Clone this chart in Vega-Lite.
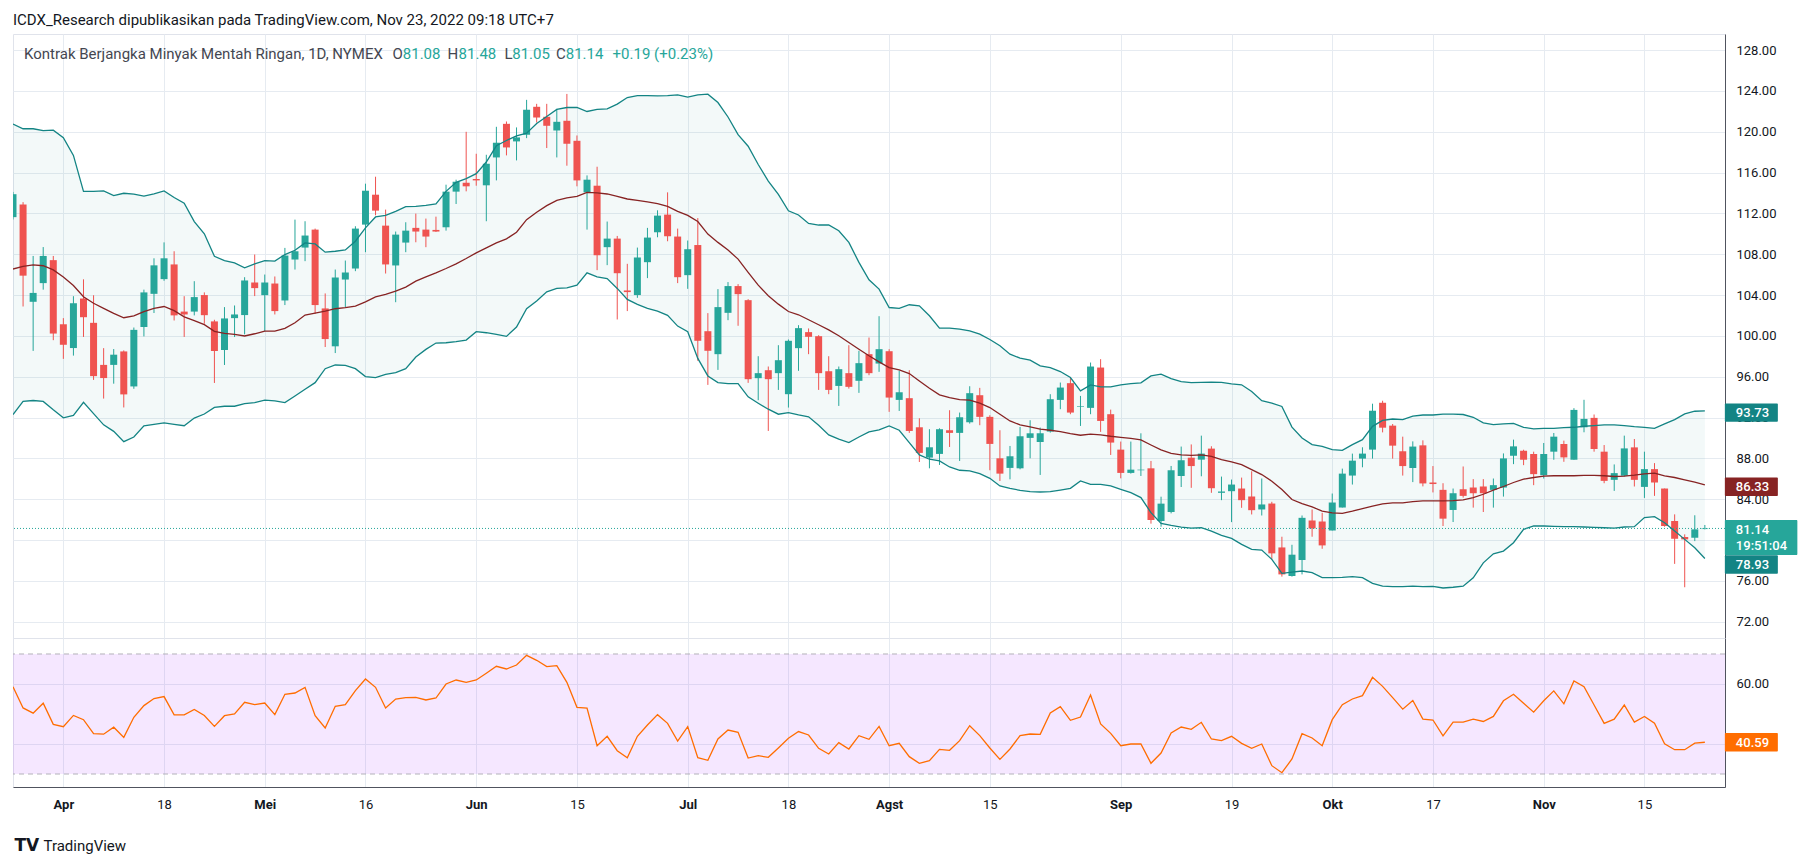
{
  "$schema": "https://vega.github.io/schema/vega-lite/v6.json",
  "description": "Light crude oil futures, daily candles with Bollinger Bands and RSI",
  "background": "white",
  "padding": {"left": 12, "top": 12, "right": 10, "bottom": 4},
  "autosize": {"type": "pad"},
  "bounds": "flush",
  "spacing": 0,
  "title": {
    "text": "ICDX_Research dipublikasikan pada TradingView.com, Nov 23, 2022 09:18 UTC+7",
    "anchor": "start", "font": "Roboto", "fontSize": 15, "fontWeight": "normal",
    "color": "#131722", "offset": 6, "dx": 1
  },
  "datasets": {
    "bars": [
      {"d":"2022-03-25","open":111.63,"high":114.1,"low":111.4,"close":113.88,"upper":120.75,"basis":106.55,"lower":92.3,"rsi":59.06},
      {"d":"2022-03-28","open":112.87,"high":113.1,"low":102.88,"close":105.9,"upper":120.29,"basis":106.82,"lower":93.58,"rsi":52.03},
      {"d":"2022-03-29","open":103.34,"high":107.83,"low":98.53,"close":104.21,"upper":120.29,"basis":106.96,"lower":93.67,"rsi":50.3},
      {"d":"2022-03-30","open":105.17,"high":108.7,"low":104.53,"close":107.83,"upper":120.1,"basis":106.87,"lower":93.58,"rsi":53.6},
      {"d":"2022-03-31","open":107.42,"high":107.83,"low":99.58,"close":100.23,"upper":120.15,"basis":106.46,"lower":92.76,"rsi":46.56},
      {"d":"2022-04-01","open":101.14,"high":101.74,"low":97.75,"close":99.13,"upper":119.42,"basis":105.77,"lower":91.98,"rsi":45.78},
      {"d":"2022-04-04","open":98.81,"high":103.89,"low":98.07,"close":103.2,"upper":117.68,"basis":104.94,"lower":92.21,"rsi":49.53},
      {"d":"2022-04-05","open":103.66,"high":105.54,"low":99.9,"close":101.83,"upper":114.15,"basis":103.84,"lower":93.49,"rsi":48.1},
      {"d":"2022-04-06","open":101.28,"high":103.98,"low":95.69,"close":96.06,"upper":114.15,"basis":103.2,"lower":92.39,"rsi":43.44},
      {"d":"2022-04-07","open":97.16,"high":98.8,"low":93.86,"close":95.87,"upper":114.2,"basis":102.7,"lower":91.29,"rsi":43.28},
      {"d":"2022-04-08","open":97.16,"high":98.71,"low":95.32,"close":98.16,"upper":113.74,"basis":102.2,"lower":90.65,"rsi":45.6},
      {"d":"2022-04-11","open":98.48,"high":98.58,"low":92.99,"close":94.27,"upper":113.97,"basis":101.78,"lower":89.64,"rsi":42.2},
      {"d":"2022-04-12","open":95.05,"high":100.82,"low":94.82,"close":100.59,"upper":113.88,"basis":101.97,"lower":90.1,"rsi":48.9},
      {"d":"2022-04-13","open":100.87,"high":104.53,"low":99.95,"close":104.26,"upper":113.69,"basis":102.38,"lower":91.2,"rsi":52.8},
      {"d":"2022-04-14","open":104.12,"high":107.6,"low":102.24,"close":106.91,"upper":113.92,"basis":102.7,"lower":91.34,"rsi":55.16},
      {"d":"2022-04-18","open":105.56,"high":109.16,"low":105.4,"close":107.6,"upper":114.2,"basis":102.88,"lower":91.48,"rsi":55.8},
      {"d":"2022-04-19","open":107.0,"high":108.29,"low":101.51,"close":102.01,"upper":113.56,"basis":102.47,"lower":91.34,"rsi":49.7},
      {"d":"2022-04-20","open":102.38,"high":103.89,"low":99.9,"close":102.1,"upper":113.0,"basis":101.87,"lower":91.2,"rsi":49.7},
      {"d":"2022-04-21","open":102.38,"high":105.36,"low":102.01,"close":103.8,"upper":111.2,"basis":101.5,"lower":91.95,"rsi":51.5},
      {"d":"2022-04-22","open":104.0,"high":104.26,"low":101.19,"close":102.03,"upper":110.0,"basis":101.1,"lower":92.35,"rsi":49.5},
      {"d":"2022-04-25","open":101.42,"high":101.58,"low":95.39,"close":98.52,"upper":107.8,"basis":100.45,"lower":93.0,"rsi":45.89},
      {"d":"2022-04-26","open":98.62,"high":102.82,"low":97.15,"close":101.71,"upper":107.38,"basis":100.25,"lower":93.11,"rsi":49.44},
      {"d":"2022-04-27","open":101.74,"high":102.98,"low":99.89,"close":102.1,"upper":107.15,"basis":100.15,"lower":93.11,"rsi":50.0},
      {"d":"2022-04-28","open":102.04,"high":105.75,"low":100.15,"close":105.43,"upper":106.67,"basis":99.99,"lower":93.37,"rsi":53.89},
      {"d":"2022-04-29","open":105.23,"high":107.97,"low":103.9,"close":104.68,"upper":107.06,"basis":100.21,"lower":93.47,"rsi":53.11},
      {"d":"2022-05-02","open":103.99,"high":106.01,"low":100.47,"close":105.23,"upper":107.38,"basis":100.47,"lower":93.7,"rsi":53.67},
      {"d":"2022-05-03","open":105.13,"high":105.82,"low":102.1,"close":102.43,"upper":107.32,"basis":100.47,"lower":93.63,"rsi":49.78},
      {"d":"2022-05-04","open":103.47,"high":108.62,"low":103.02,"close":107.87,"upper":107.97,"basis":100.74,"lower":93.47,"rsi":56.56},
      {"d":"2022-05-05","open":107.48,"high":111.39,"low":106.5,"close":108.29,"upper":108.39,"basis":101.29,"lower":94.12,"rsi":57.0},
      {"d":"2022-05-06","open":108.65,"high":111.23,"low":107.32,"close":109.83,"upper":109.11,"basis":102.04,"lower":94.77,"rsi":58.89},
      {"d":"2022-05-09","open":110.41,"high":110.51,"low":102.17,"close":103.02,"upper":109.01,"basis":102.23,"lower":95.42,"rsi":49.44},
      {"d":"2022-05-10","open":102.69,"high":104.16,"low":98.91,"close":99.69,"upper":108.2,"basis":102.43,"lower":96.79,"rsi":45.33},
      {"d":"2022-05-11","open":98.98,"high":106.5,"low":98.32,"close":105.72,"upper":108.29,"basis":102.66,"lower":97.15,"rsi":52.56},
      {"d":"2022-05-12","open":105.52,"high":107.38,"low":102.82,"close":106.21,"upper":108.42,"basis":102.76,"lower":97.12,"rsi":53.11},
      {"d":"2022-05-13","open":106.6,"high":110.74,"low":106.34,"close":110.51,"upper":109.27,"basis":102.92,"lower":96.79,"rsi":57.78},
      {"d":"2022-05-16","open":110.9,"high":114.91,"low":108.2,"close":114.22,"upper":110.58,"basis":103.34,"lower":96.01,"rsi":61.67},
      {"d":"2022-05-17","open":113.83,"high":115.59,"low":111.81,"close":112.27,"upper":111.65,"basis":103.83,"lower":95.91,"rsi":58.89},
      {"d":"2022-05-18","open":110.8,"high":112.37,"low":106.11,"close":107.0,"upper":111.81,"basis":104.06,"lower":96.24,"rsi":52.0},
      {"d":"2022-05-19","open":106.9,"high":110.22,"low":103.3,"close":109.92,"upper":112.2,"basis":104.38,"lower":96.4,"rsi":55.0},
      {"d":"2022-05-20","open":109.14,"high":111.13,"low":108.2,"close":110.31,"upper":112.66,"basis":104.78,"lower":96.79,"rsi":55.44},
      {"d":"2022-05-23","open":110.58,"high":111.98,"low":109.17,"close":110.22,"upper":112.69,"basis":105.36,"lower":97.93,"rsi":55.56},
      {"d":"2022-05-24","open":110.41,"high":111.49,"low":108.69,"close":109.73,"upper":112.79,"basis":105.79,"lower":98.68,"rsi":54.67},
      {"d":"2022-05-25","open":110.38,"high":111.68,"low":110.18,"close":110.22,"upper":112.92,"basis":106.18,"lower":99.3,"rsi":55.33},
      {"d":"2022-05-26","open":110.64,"high":114.81,"low":110.31,"close":114.13,"upper":114.16,"basis":106.6,"lower":99.33,"rsi":60.0},
      {"d":"2022-05-27","open":114.13,"high":115.3,"low":112.92,"close":115.1,"upper":115.04,"basis":107.06,"lower":99.43,"rsi":61.33},
      {"d":"2022-05-31","open":115.0,"high":119.99,"low":114.16,"close":114.65,"upper":115.4,"basis":107.58,"lower":99.59,"rsi":60.56},
      {"d":"2022-06-01","open":115.37,"high":117.84,"low":114.71,"close":115.23,"upper":115.89,"basis":108.13,"lower":100.41,"rsi":61.33},
      {"d":"2022-06-02","open":114.75,"high":117.74,"low":111.23,"close":116.86,"upper":117.03,"basis":108.62,"lower":100.31,"rsi":63.56},
      {"d":"2022-06-03","open":117.48,"high":120.48,"low":115.23,"close":118.92,"upper":118.62,"basis":109.11,"lower":100.15,"rsi":65.89},
      {"d":"2022-06-06","open":120.77,"high":121.0,"low":117.68,"close":118.46,"upper":119.14,"basis":109.5,"lower":99.95,"rsi":65.0},
      {"d":"2022-06-07","open":119.05,"high":120.42,"low":117.19,"close":119.44,"upper":119.6,"basis":110.15,"lower":100.87,"rsi":66.33},
      {"d":"2022-06-08","open":119.7,"high":123.12,"low":119.37,"close":122.14,"upper":119.86,"basis":111.39,"lower":102.66,"rsi":69.56},
      {"d":"2022-06-09","open":122.44,"high":122.73,"low":120.9,"close":121.39,"upper":120.81,"basis":112.11,"lower":103.41,"rsi":67.89},
      {"d":"2022-06-10","open":121.46,"high":122.73,"low":118.4,"close":120.58,"upper":121.49,"basis":112.76,"lower":104.32,"rsi":65.78},
      {"d":"2022-06-13","open":120.12,"high":122.24,"low":117.48,"close":120.97,"upper":122.18,"basis":113.28,"lower":104.65,"rsi":66.11},
      {"d":"2022-06-14","open":121.07,"high":123.7,"low":116.67,"close":118.82,"upper":122.37,"basis":113.51,"lower":104.71,"rsi":60.56},
      {"d":"2022-06-15","open":119.11,"high":119.63,"low":114.65,"close":115.23,"upper":122.37,"basis":113.67,"lower":104.97,"rsi":52.22},
      {"d":"2022-06-16","open":114.06,"high":115.72,"low":110.41,"close":115.3,"upper":121.98,"basis":114.06,"lower":106.18,"rsi":52.0},
      {"d":"2022-06-17","open":114.71,"high":116.57,"low":106.44,"close":107.9,"upper":122.18,"basis":114.0,"lower":105.79,"rsi":39.44},
      {"d":"2022-06-21","open":108.69,"high":111.2,"low":106.93,"close":109.53,"upper":122.24,"basis":113.9,"lower":105.62,"rsi":42.56},
      {"d":"2022-06-22","open":109.53,"high":109.79,"low":101.61,"close":106.14,"upper":122.7,"basis":113.67,"lower":104.65,"rsi":37.78},
      {"d":"2022-06-23","open":104.45,"high":107.06,"low":102.43,"close":104.29,"upper":123.35,"basis":113.41,"lower":103.57,"rsi":35.44},
      {"d":"2022-06-24","open":104.0,"high":108.65,"low":103.73,"close":107.68,"upper":123.54,"basis":113.28,"lower":103.08,"rsi":42.56},
      {"d":"2022-06-27","open":107.22,"high":110.58,"low":105.66,"close":109.63,"upper":123.54,"basis":113.12,"lower":102.69,"rsi":46.33},
      {"d":"2022-06-28","open":110.15,"high":112.3,"low":109.66,"close":111.78,"upper":123.51,"basis":112.95,"lower":102.43,"rsi":49.78},
      {"d":"2022-06-29","open":111.88,"high":114.06,"low":109.27,"close":109.76,"upper":123.54,"basis":112.69,"lower":102.01,"rsi":46.89},
      {"d":"2022-06-30","open":109.73,"high":110.51,"low":105.17,"close":105.75,"upper":123.61,"basis":112.2,"lower":100.96,"rsi":41.0},
      {"d":"2022-07-01","open":105.95,"high":109.34,"low":104.61,"close":108.49,"upper":123.38,"basis":111.81,"lower":100.41,"rsi":45.78},
      {"d":"2022-07-05","open":108.9,"high":111.54,"low":97.56,"close":99.52,"upper":123.61,"basis":111.2,"lower":97.8,"rsi":35.44},
      {"d":"2022-07-06","open":100.46,"high":102.23,"low":95.2,"close":98.54,"upper":123.68,"basis":109.97,"lower":96.08,"rsi":34.56},
      {"d":"2022-07-07","open":98.21,"high":104.58,"low":96.67,"close":102.82,"upper":122.86,"basis":109.16,"lower":95.43,"rsi":41.67},
      {"d":"2022-07-08","open":102.26,"high":105.27,"low":101.54,"close":104.88,"upper":121.44,"basis":108.41,"lower":95.33,"rsi":44.67},
      {"d":"2022-07-11","open":104.88,"high":105.07,"low":100.99,"close":104.09,"upper":119.71,"basis":107.52,"lower":95.33,"rsi":43.89},
      {"d":"2022-07-12","open":103.5,"high":103.6,"low":95.4,"close":95.76,"upper":118.58,"basis":106.22,"lower":94.03,"rsi":35.33},
      {"d":"2022-07-13","open":95.86,"high":98.01,"low":93.7,"close":96.35,"upper":116.79,"basis":104.97,"lower":93.41,"rsi":36.11},
      {"d":"2022-07-14","open":96.64,"high":97.0,"low":90.69,"close":95.76,"upper":115.17,"basis":103.93,"lower":92.82,"rsi":35.56},
      {"d":"2022-07-15","open":96.35,"high":99.09,"low":94.71,"close":97.62,"upper":113.87,"basis":103.11,"lower":92.33,"rsi":38.67},
      {"d":"2022-07-18","open":94.29,"high":99.65,"low":92.98,"close":99.52,"upper":112.26,"basis":102.39,"lower":92.49,"rsi":41.89},
      {"d":"2022-07-19","open":98.8,"high":101.05,"low":96.58,"close":100.76,"upper":111.84,"basis":102.07,"lower":92.26,"rsi":44.15},
      {"d":"2022-07-20","open":100.37,"high":100.73,"low":98.21,"close":99.91,"upper":111.02,"basis":101.58,"lower":92.07,"rsi":43.0},
      {"d":"2022-07-21","open":99.97,"high":100.07,"low":94.71,"close":96.35,"upper":110.86,"basis":101.09,"lower":91.25,"rsi":38.56},
      {"d":"2022-07-22","open":96.54,"high":98.01,"low":94.29,"close":94.71,"upper":110.86,"basis":100.59,"lower":90.3,"rsi":36.67},
      {"d":"2022-07-25","open":95.1,"high":97.0,"low":93.14,"close":96.74,"upper":110.3,"basis":100.01,"lower":89.88,"rsi":40.44},
      {"d":"2022-07-26","open":96.35,"high":99.09,"low":94.84,"close":95.01,"upper":109.16,"basis":99.35,"lower":89.55,"rsi":38.33},
      {"d":"2022-07-27","open":95.6,"high":98.54,"low":94.42,"close":97.33,"upper":107.2,"basis":98.7,"lower":90.1,"rsi":42.78},
      {"d":"2022-07-28","open":98.21,"high":99.84,"low":96.15,"close":96.35,"upper":105.5,"basis":98.05,"lower":90.6,"rsi":41.56},
      {"d":"2022-07-29","open":97.29,"high":101.93,"low":96.48,"close":98.7,"upper":104.58,"basis":97.46,"lower":90.79,"rsi":45.89},
      {"d":"2022-08-01","open":98.5,"high":98.7,"low":92.56,"close":93.96,"upper":102.78,"basis":96.9,"lower":91.18,"rsi":39.44},
      {"d":"2022-08-02","open":93.73,"high":96.58,"low":92.65,"close":94.48,"upper":102.69,"basis":96.67,"lower":90.76,"rsi":40.22},
      {"d":"2022-08-03","open":93.9,"high":96.64,"low":90.5,"close":90.69,"upper":103.05,"basis":96.31,"lower":89.55,"rsi":35.78},
      {"d":"2022-08-04","open":91.05,"high":91.93,"low":87.65,"close":88.54,"upper":102.95,"basis":95.59,"lower":88.34,"rsi":33.56},
      {"d":"2022-08-05","open":88.08,"high":90.86,"low":87.03,"close":89.09,"upper":101.97,"basis":94.87,"lower":87.92,"rsi":34.44},
      {"d":"2022-08-08","open":88.44,"high":90.95,"low":87.36,"close":90.86,"upper":100.76,"basis":94.22,"lower":87.75,"rsi":38.22},
      {"d":"2022-08-09","open":90.76,"high":92.72,"low":89.12,"close":90.5,"upper":100.76,"basis":93.96,"lower":87.16,"rsi":37.89},
      {"d":"2022-08-10","open":90.5,"high":92.49,"low":87.75,"close":92.03,"upper":100.66,"basis":93.76,"lower":86.84,"rsi":41.11},
      {"d":"2022-08-11","open":91.54,"high":95.07,"low":91.41,"close":94.39,"upper":100.5,"basis":93.7,"lower":86.77,"rsi":46.11},
      {"d":"2022-08-12","open":94.19,"high":94.91,"low":91.25,"close":92.07,"upper":100.17,"basis":93.41,"lower":86.51,"rsi":42.78},
      {"d":"2022-08-15","open":92.07,"high":92.23,"low":86.84,"close":89.42,"upper":99.65,"basis":92.98,"lower":86.05,"rsi":38.67},
      {"d":"2022-08-16","open":88.01,"high":90.76,"low":85.79,"close":86.51,"upper":99.03,"basis":92.33,"lower":85.3,"rsi":34.89},
      {"d":"2022-08-17","open":87.07,"high":89.22,"low":85.95,"close":88.21,"upper":98.21,"basis":91.67,"lower":85.07,"rsi":38.33},
      {"d":"2022-08-18","open":87.03,"high":91.08,"low":86.93,"close":90.17,"upper":97.82,"basis":91.28,"lower":84.87,"rsi":42.78},
      {"d":"2022-08-19","open":90.01,"high":91.74,"low":88.01,"close":90.46,"upper":97.62,"basis":91.08,"lower":84.74,"rsi":43.33},
      {"d":"2022-08-22","open":89.61,"high":91.02,"low":86.38,"close":90.46,"upper":97.07,"basis":90.86,"lower":84.71,"rsi":43.22},
      {"d":"2022-08-23","open":90.63,"high":94.29,"low":90.53,"close":93.8,"upper":96.9,"basis":90.76,"lower":84.74,"rsi":50.33},
      {"d":"2022-08-24","open":93.73,"high":95.43,"low":92.82,"close":94.94,"upper":96.51,"basis":90.63,"lower":84.9,"rsi":52.44},
      {"d":"2022-08-25","open":95.37,"high":95.86,"low":92.33,"close":92.49,"upper":95.92,"basis":90.43,"lower":85.07,"rsi":47.89},
      {"d":"2022-08-26","open":93.05,"high":94.12,"low":91.18,"close":93.11,"upper":94.61,"basis":90.27,"lower":85.79,"rsi":49.0},
      {"d":"2022-08-29","open":92.95,"high":97.39,"low":92.33,"close":97.0,"upper":95.2,"basis":90.37,"lower":85.46,"rsi":56.33},
      {"d":"2022-08-30","open":96.9,"high":97.72,"low":90.6,"close":91.67,"upper":95.01,"basis":90.3,"lower":85.46,"rsi":46.67},
      {"d":"2022-08-31","open":92.33,"high":92.78,"low":88.34,"close":89.55,"upper":95.01,"basis":90.17,"lower":85.3,"rsi":43.56},
      {"d":"2022-09-01","open":88.86,"high":89.65,"low":86.05,"close":86.58,"upper":95.2,"basis":90.07,"lower":84.97,"rsi":39.44},
      {"d":"2022-09-02","open":86.58,"high":89.65,"low":86.51,"close":86.9,"upper":95.33,"basis":89.97,"lower":84.64,"rsi":40.0},
      {"d":"2022-09-06","open":86.84,"high":90.46,"low":86.28,"close":86.9,"upper":95.4,"basis":89.81,"lower":84.16,"rsi":40.0},
      {"d":"2022-09-07","open":87.03,"high":87.75,"low":81.61,"close":81.97,"upper":96.08,"basis":89.31,"lower":82.69,"rsi":33.56},
      {"d":"2022-09-08","open":81.87,"high":84.25,"low":81.31,"close":83.57,"upper":96.25,"basis":88.83,"lower":81.64,"rsi":37.0},
      {"d":"2022-09-09","open":82.75,"high":87.26,"low":82.62,"close":86.84,"upper":95.82,"basis":88.5,"lower":81.44,"rsi":43.67},
      {"d":"2022-09-12","open":86.28,"high":89.16,"low":85.2,"close":87.82,"upper":95.53,"basis":88.34,"lower":81.28,"rsi":45.67},
      {"d":"2022-09-13","open":88.07,"high":89.37,"low":85.12,"close":87.25,"upper":95.42,"basis":88.29,"lower":81.18,"rsi":44.89},
      {"d":"2022-09-14","open":87.88,"high":90.23,"low":86.25,"close":88.47,"upper":95.44,"basis":88.34,"lower":81.21,"rsi":47.22},
      {"d":"2022-09-15","open":88.96,"high":89.19,"low":84.63,"close":85.08,"upper":95.47,"basis":88.21,"lower":80.88,"rsi":41.67},
      {"d":"2022-09-16","open":84.63,"high":86.22,"low":83.91,"close":84.76,"upper":95.44,"basis":87.88,"lower":80.46,"rsi":41.11},
      {"d":"2022-09-19","open":84.79,"high":85.93,"low":81.76,"close":85.44,"upper":95.31,"basis":87.65,"lower":80.16,"rsi":42.56},
      {"d":"2022-09-20","open":85.05,"high":86.12,"low":83.16,"close":83.91,"upper":95.21,"basis":87.39,"lower":79.58,"rsi":40.22},
      {"d":"2022-09-21","open":84.27,"high":86.74,"low":82.51,"close":82.93,"upper":94.56,"basis":86.91,"lower":79.09,"rsi":38.56},
      {"d":"2022-09-22","open":83.0,"high":86.03,"low":82.41,"close":83.49,"upper":93.65,"basis":86.42,"lower":79.02,"rsi":40.0},
      {"d":"2022-09-23","open":83.58,"high":83.75,"low":78.11,"close":78.7,"upper":93.42,"basis":85.77,"lower":78.11,"rsi":32.78},
      {"d":"2022-09-26","open":79.28,"high":80.33,"low":76.42,"close":76.64,"upper":93.09,"basis":84.95,"lower":76.74,"rsi":30.44},
      {"d":"2022-09-27","open":76.48,"high":79.54,"low":76.42,"close":78.57,"upper":91.07,"basis":83.97,"lower":76.87,"rsi":35.0},
      {"d":"2022-09-28","open":78.05,"high":82.41,"low":76.64,"close":82.18,"upper":90.0,"basis":83.58,"lower":76.97,"rsi":43.44},
      {"d":"2022-09-29","open":81.92,"high":83.0,"low":80.33,"close":81.14,"upper":89.35,"basis":83.26,"lower":76.81,"rsi":42.0},
      {"d":"2022-09-30","open":81.82,"high":82.67,"low":79.15,"close":79.48,"upper":89.19,"basis":82.83,"lower":76.32,"rsi":39.44},
      {"d":"2022-10-03","open":80.94,"high":84.56,"low":80.94,"close":83.68,"upper":88.86,"basis":82.67,"lower":76.32,"rsi":48.11},
      {"d":"2022-10-04","open":83.19,"high":87.0,"low":83.19,"close":86.51,"upper":88.79,"basis":82.61,"lower":76.35,"rsi":53.11},
      {"d":"2022-10-05","open":86.32,"high":88.47,"low":85.44,"close":87.78,"upper":89.35,"basis":82.83,"lower":76.42,"rsi":55.0},
      {"d":"2022-10-06","open":87.98,"high":89.09,"low":87.13,"close":88.47,"upper":89.84,"basis":83.09,"lower":76.32,"rsi":56.11},
      {"d":"2022-10-07","open":88.86,"high":93.36,"low":87.98,"close":92.67,"upper":91.14,"basis":83.32,"lower":75.77,"rsi":62.22},
      {"d":"2022-10-10","open":93.45,"high":93.65,"low":90.55,"close":91.01,"upper":91.73,"basis":83.55,"lower":75.5,"rsi":59.22},
      {"d":"2022-10-11","open":91.21,"high":91.37,"low":87.98,"close":89.25,"upper":91.86,"basis":83.65,"lower":75.44,"rsi":55.44},
      {"d":"2022-10-12","open":88.7,"high":90.13,"low":86.32,"close":87.25,"upper":91.8,"basis":83.65,"lower":75.45,"rsi":51.6},
      {"d":"2022-10-13","open":87.06,"high":89.67,"low":85.68,"close":89.16,"upper":92.15,"basis":83.76,"lower":75.49,"rsi":54.5},
      {"d":"2022-10-14","open":89.28,"high":89.77,"low":85.26,"close":85.55,"upper":92.25,"basis":83.84,"lower":75.45,"rsi":48.3},
      {"d":"2022-10-17","open":85.64,"high":87.25,"low":84.67,"close":85.49,"upper":92.25,"basis":83.85,"lower":75.46,"rsi":48.0},
      {"d":"2022-10-18","open":84.92,"high":85.57,"low":81.38,"close":82.1,"upper":92.33,"basis":83.84,"lower":75.31,"rsi":42.7},
      {"d":"2022-10-19","open":82.95,"high":85.05,"low":81.77,"close":84.59,"upper":92.33,"basis":83.87,"lower":75.38,"rsi":47.3},
      {"d":"2022-10-20","open":84.98,"high":87.21,"low":84.16,"close":84.33,"upper":92.3,"basis":83.93,"lower":75.48,"rsi":47.3},
      {"d":"2022-10-21","open":85.15,"high":85.97,"low":83.18,"close":84.59,"upper":92.03,"basis":84.16,"lower":76.3,"rsi":48.3},
      {"d":"2022-10-24","open":85.25,"high":85.97,"low":82.75,"close":84.59,"upper":91.48,"basis":84.49,"lower":77.77,"rsi":47.5},
      {"d":"2022-10-25","open":84.92,"high":86.03,"low":83.18,"close":85.38,"upper":91.31,"basis":84.89,"lower":78.66,"rsi":49.2},
      {"d":"2022-10-26","open":85.15,"high":88.49,"low":84.26,"close":88.0,"upper":91.38,"basis":85.25,"lower":78.92,"rsi":54.4},
      {"d":"2022-10-27","open":88.26,"high":89.84,"low":87.44,"close":89.18,"upper":91.44,"basis":85.64,"lower":79.74,"rsi":56.6},
      {"d":"2022-10-28","open":88.75,"high":88.85,"low":87.34,"close":87.87,"upper":91.05,"basis":85.97,"lower":81.05,"rsi":53.6},
      {"d":"2022-10-31","open":88.43,"high":88.66,"low":85.38,"close":86.46,"upper":90.89,"basis":86.13,"lower":81.38,"rsi":50.6},
      {"d":"2022-11-01","open":86.36,"high":89.51,"low":86.03,"close":88.43,"upper":90.95,"basis":86.26,"lower":81.38,"rsi":54.4},
      {"d":"2022-11-02","open":88.66,"high":90.49,"low":87.87,"close":90.13,"upper":90.95,"basis":86.3,"lower":81.34,"rsi":57.7},
      {"d":"2022-11-03","open":89.41,"high":89.74,"low":87.67,"close":88.1,"upper":91.02,"basis":86.3,"lower":81.31,"rsi":53.4},
      {"d":"2022-11-04","open":87.87,"high":92.92,"low":87.87,"close":92.75,"upper":91.05,"basis":86.3,"lower":81.31,"rsi":61.0},
      {"d":"2022-11-07","open":91.05,"high":93.74,"low":90.56,"close":91.87,"upper":91.15,"basis":86.33,"lower":81.28,"rsi":59.1},
      {"d":"2022-11-08","open":91.97,"high":92.3,"low":88.66,"close":88.92,"upper":91.21,"basis":86.33,"lower":81.25,"rsi":53.0},
      {"d":"2022-11-09","open":88.66,"high":89.31,"low":85.57,"close":85.8,"upper":91.28,"basis":86.3,"lower":81.21,"rsi":46.9},
      {"d":"2022-11-10","open":85.9,"high":87.41,"low":84.82,"close":86.56,"upper":91.28,"basis":86.23,"lower":81.18,"rsi":48.3},
      {"d":"2022-11-11","open":86.3,"high":90.23,"low":86.23,"close":88.98,"upper":91.21,"basis":86.26,"lower":81.28,"rsi":53.0},
      {"d":"2022-11-14","open":89.08,"high":89.9,"low":85.25,"close":85.9,"upper":91.11,"basis":86.36,"lower":81.31,"rsi":47.3},
      {"d":"2022-11-15","open":85.21,"high":88.66,"low":84.13,"close":86.95,"upper":91.05,"basis":86.49,"lower":82.2,"rsi":49.2},
      {"d":"2022-11-16","open":86.95,"high":87.54,"low":84.33,"close":85.64,"upper":90.95,"basis":86.56,"lower":82.3,"rsi":46.9},
      {"d":"2022-11-17","open":85.05,"high":85.05,"low":81.31,"close":81.38,"upper":91.38,"basis":86.3,"lower":81.7,"rsi":40.1},
      {"d":"2022-11-18","open":81.87,"high":82.52,"low":77.67,"close":80.13,"upper":91.8,"basis":86.13,"lower":80.89,"rsi":38.1},
      {"d":"2022-11-21","open":80.3,"high":80.56,"low":75.38,"close":80.07,"upper":92.36,"basis":85.9,"lower":80.07,"rsi":38.1},
      {"d":"2022-11-22","open":80.23,"high":82.43,"low":79.9,"close":81.05,"upper":92.62,"basis":85.67,"lower":79.25,"rsi":40.3},
      {"d":"2022-11-23","open":81.08,"high":81.48,"low":81.05,"close":81.14,"upper":92.66,"basis":85.41,"lower":78.2,"rsi":40.59}
    ],
    "bandTags": [
      {"name": "upper", "label": "93.73", "level": 92.48},
      {"name": "basis", "label": "86.33", "level": 85.23},
      {"name": "lower", "label": "78.93", "level": 77.61}
    ],
    "hdr": [
      {"name": "Kontrak Berjangka Minyak Mentah Ringan, 1D, NYMEX", "o": 81.08, "h": 81.48, "l": 81.05, "c": 81.14, "chg": "+0.19 (+0.23%)", "timer": "19:51:04"}
    ],
    "rsiZone": [{"top": 70, "bottom": 30}],
    "rsiLevels": [{"level": 70}, {"level": 30}]
  },
  "vconcat": [
    {
      "width": 1712,
      "height": 604,
      "layer": [
        {
          "data": {"name": "bars"},
          "mark": {"type": "area", "color": "#198787", "opacity": 0.05, "clip": true},
          "encoding": {
            "x": {
              "field": "d", "type": "ordinal",
              "scale": {"type": "point", "padding": 1, "align": 0},
              "axis": {
                "values": ["2022-04-01","2022-04-18","2022-05-02","2022-05-16","2022-06-01","2022-06-15","2022-07-01","2022-07-18","2022-08-01","2022-08-15","2022-09-01","2022-09-19","2022-10-03","2022-10-17","2022-11-01","2022-11-15"],
                "labels": false, "ticks": false, "domain": false, "grid": true,
                "title": "TV", "titleX": 1, "titleY": 207, "titleAlign": "left", "titleAnchor": "start",
                "titleBaseline": "middle", "titleFont": "DejaVu Sans", "titleFontSize": 17,
                "titleFontWeight": 900, "titleColor": "#131722"
              }
            },
            "y": {
              "field": "lower", "type": "quantitative",
              "scale": {"domain": [70.41, 129.57], "nice": false, "zero": false},
              "axis": {
                "orient": "right", "values": [72,76,80,84,88,92,96,100,104,108,112,116,120,124,128],
                "format": ".2f", "labelExpr": "datum.value == 80 ? '' : datum.label",
                "grid": true, "ticks": false, "labelPadding": 11,
                "domain": true, "domainColor": "#50535e", "labelOverlap": false, "title": null
              }
            },
            "y2": {"field": "upper"}
          }
        },
        {
          "data": {"name": "bars"},
          "mark": {"type": "rule", "strokeWidth": 1, "clip": true},
          "encoding": {
            "x": {"field": "d", "type": "ordinal", "scale": {"type": "point", "padding": 1, "align": 0}},
            "y": {"field": "low", "type": "quantitative", "scale": {"domain": [70.41, 129.57], "nice": false, "zero": false}, "title": null},
            "y2": {"field": "high"},
            "color": {"condition": {"test": "datum.close >= datum.open", "value": "#26a69a"}, "value": "#ef5350"}
          }
        },
        {
          "data": {"name": "bars"},
          "mark": {"type": "bar", "width": 7, "clip": true},
          "encoding": {
            "x": {"field": "d", "type": "ordinal", "scale": {"type": "point", "padding": 1, "align": 0}},
            "y": {"field": "open", "type": "quantitative", "scale": {"domain": [70.41, 129.57], "nice": false, "zero": false}, "title": null},
            "y2": {"field": "close"},
            "color": {"condition": {"test": "datum.close >= datum.open", "value": "#26a69a"}, "value": "#ef5350"}
          }
        },
        {
          "data": {"name": "bars"},
          "mark": {"type": "line", "color": "#138484", "strokeWidth": 1.3, "clip": true},
          "encoding": {
            "x": {"field": "d", "type": "ordinal", "scale": {"type": "point", "padding": 1, "align": 0}},
            "y": {"field": "upper", "type": "quantitative", "scale": {"domain": [70.41, 129.57], "nice": false, "zero": false}, "title": null}
          }
        },
        {
          "data": {"name": "bars"},
          "mark": {"type": "line", "color": "#138484", "strokeWidth": 1.3, "clip": true},
          "encoding": {
            "x": {"field": "d", "type": "ordinal", "scale": {"type": "point", "padding": 1, "align": 0}},
            "y": {"field": "lower", "type": "quantitative", "scale": {"domain": [70.41, 129.57], "nice": false, "zero": false}, "title": null}
          }
        },
        {
          "data": {"name": "bars"},
          "mark": {"type": "line", "color": "#872323", "strokeWidth": 1.3, "clip": true},
          "encoding": {
            "x": {"field": "d", "type": "ordinal", "scale": {"type": "point", "padding": 1, "align": 0}},
            "y": {"field": "basis", "type": "quantitative", "scale": {"domain": [70.41, 129.57], "nice": false, "zero": false}, "title": null}
          }
        },
        {
          "data": {"name": "hdr"},
          "mark": {"type": "rule", "color": "#26a69a", "strokeWidth": 1, "strokeDash": [1, 2]},
          "encoding": {
            "y": {"field": "c", "type": "quantitative", "scale": {"domain": [70.41, 129.57], "nice": false, "zero": false}, "title": null}
          }
        },
        {
          "data": {"name": "hdr"},
          "mark": {"type": "text", "align": "left", "baseline": "middle", "fontSize": 15, "color": "#434651", "dx": 11},
          "encoding": {
            "x": {"datum": "2022-03-25", "type": "ordinal", "scale": {"type": "point", "padding": 1, "align": 0}},
            "y": {"datum": 127.57, "type": "quantitative", "scale": {"domain": [70.41, 129.57], "nice": false, "zero": false}},
            "text": {"field": "name"}
          }
        },
        {
          "data": {"name": "hdr"},
          "mark": {"type": "text", "align": "left", "baseline": "middle", "fontSize": 15, "color": "#434651", "dx": 379.5},
          "encoding": {
            "x": {"datum": "2022-03-25", "type": "ordinal", "scale": {"type": "point", "padding": 1, "align": 0}},
            "y": {"datum": 127.57, "type": "quantitative", "scale": {"domain": [70.41, 129.57], "nice": false, "zero": false}},
            "text": {"value": "O"}
          }
        },
        {
          "data": {"name": "hdr"},
          "mark": {"type": "text", "align": "left", "baseline": "middle", "fontSize": 15, "color": "#26a69a", "dx": 389.8},
          "encoding": {
            "x": {"datum": "2022-03-25", "type": "ordinal", "scale": {"type": "point", "padding": 1, "align": 0}},
            "y": {"datum": 127.57, "type": "quantitative", "scale": {"domain": [70.41, 129.57], "nice": false, "zero": false}},
            "text": {"field": "o", "format": ".2f"}
          }
        },
        {
          "data": {"name": "hdr"},
          "mark": {"type": "text", "align": "left", "baseline": "middle", "fontSize": 15, "color": "#434651", "dx": 434.4},
          "encoding": {
            "x": {"datum": "2022-03-25", "type": "ordinal", "scale": {"type": "point", "padding": 1, "align": 0}},
            "y": {"datum": 127.57, "type": "quantitative", "scale": {"domain": [70.41, 129.57], "nice": false, "zero": false}},
            "text": {"value": "H"}
          }
        },
        {
          "data": {"name": "hdr"},
          "mark": {"type": "text", "align": "left", "baseline": "middle", "fontSize": 15, "color": "#26a69a", "dx": 445.6},
          "encoding": {
            "x": {"datum": "2022-03-25", "type": "ordinal", "scale": {"type": "point", "padding": 1, "align": 0}},
            "y": {"datum": 127.57, "type": "quantitative", "scale": {"domain": [70.41, 129.57], "nice": false, "zero": false}},
            "text": {"field": "h", "format": ".2f"}
          }
        },
        {
          "data": {"name": "hdr"},
          "mark": {"type": "text", "align": "left", "baseline": "middle", "fontSize": 15, "color": "#434651", "dx": 491.6},
          "encoding": {
            "x": {"datum": "2022-03-25", "type": "ordinal", "scale": {"type": "point", "padding": 1, "align": 0}},
            "y": {"datum": 127.57, "type": "quantitative", "scale": {"domain": [70.41, 129.57], "nice": false, "zero": false}},
            "text": {"value": "L"}
          }
        },
        {
          "data": {"name": "hdr"},
          "mark": {"type": "text", "align": "left", "baseline": "middle", "fontSize": 15, "color": "#26a69a", "dx": 499.2},
          "encoding": {
            "x": {"datum": "2022-03-25", "type": "ordinal", "scale": {"type": "point", "padding": 1, "align": 0}},
            "y": {"datum": 127.57, "type": "quantitative", "scale": {"domain": [70.41, 129.57], "nice": false, "zero": false}},
            "text": {"field": "l", "format": ".2f"}
          }
        },
        {
          "data": {"name": "hdr"},
          "mark": {"type": "text", "align": "left", "baseline": "middle", "fontSize": 15, "color": "#434651", "dx": 543},
          "encoding": {
            "x": {"datum": "2022-03-25", "type": "ordinal", "scale": {"type": "point", "padding": 1, "align": 0}},
            "y": {"datum": 127.57, "type": "quantitative", "scale": {"domain": [70.41, 129.57], "nice": false, "zero": false}},
            "text": {"value": "C"}
          }
        },
        {
          "data": {"name": "hdr"},
          "mark": {"type": "text", "align": "left", "baseline": "middle", "fontSize": 15, "color": "#26a69a", "dx": 552.7},
          "encoding": {
            "x": {"datum": "2022-03-25", "type": "ordinal", "scale": {"type": "point", "padding": 1, "align": 0}},
            "y": {"datum": 127.57, "type": "quantitative", "scale": {"domain": [70.41, 129.57], "nice": false, "zero": false}},
            "text": {"field": "c", "format": ".2f"}
          }
        },
        {
          "data": {"name": "hdr"},
          "mark": {"type": "text", "align": "left", "baseline": "middle", "fontSize": 15, "color": "#26a69a", "dx": 599.6},
          "encoding": {
            "x": {"datum": "2022-03-25", "type": "ordinal", "scale": {"type": "point", "padding": 1, "align": 0}},
            "y": {"datum": 127.57, "type": "quantitative", "scale": {"domain": [70.41, 129.57], "nice": false, "zero": false}},
            "text": {"field": "chg"}
          }
        },
        {
          "data": {"name": "bandTags"},
          "mark": {"type": "rect", "xOffset": 20, "x2Offset": 73, "yOffset": -9.2, "y2Offset": 9.2, "cornerRadius": 1},
          "encoding": {
            "x": {"datum": "2022-11-23", "type": "ordinal", "scale": {"type": "point", "padding": 1, "align": 0}},
            "x2": {"datum": "2022-11-23"},
            "y": {"field": "level", "type": "quantitative", "scale": {"domain": [70.41, 129.57], "nice": false, "zero": false}, "title": null},
            "y2": {"field": "level"},
            "color": {"field": "name", "type": "nominal", "scale": {"domain": ["upper", "basis", "lower"], "range": ["#138484", "#872323", "#138484"]}, "legend": null}
          }
        },
        {
          "data": {"name": "bandTags"},
          "mark": {"type": "text", "align": "left", "baseline": "middle", "fontSize": 13, "fontWeight": 500, "color": "white", "dx": 31, "dy": 0.5},
          "encoding": {
            "x": {"datum": "2022-11-23", "type": "ordinal", "scale": {"type": "point", "padding": 1, "align": 0}},
            "y": {"field": "level", "type": "quantitative", "scale": {"domain": [70.41, 129.57], "nice": false, "zero": false}, "title": null},
            "text": {"field": "label"}
          }
        },
        {
          "data": {"name": "hdr"},
          "mark": {"type": "rect", "color": "#26a69a", "xOffset": 20, "x2Offset": 92.5, "yOffset": -8.5, "y2Offset": 26.5, "cornerRadius": 1},
          "encoding": {
            "x": {"datum": "2022-11-23", "type": "ordinal", "scale": {"type": "point", "padding": 1, "align": 0}},
            "x2": {"datum": "2022-11-23"},
            "y": {"field": "c", "type": "quantitative", "scale": {"domain": [70.41, 129.57], "nice": false, "zero": false}, "title": null},
            "y2": {"field": "c"}
          }
        },
        {
          "data": {"name": "hdr"},
          "mark": {"type": "text", "align": "left", "baseline": "middle", "fontSize": 13, "fontWeight": 500, "color": "white", "dx": 31, "dy": 1.5},
          "encoding": {
            "x": {"datum": "2022-11-23", "type": "ordinal", "scale": {"type": "point", "padding": 1, "align": 0}},
            "y": {"field": "c", "type": "quantitative", "scale": {"domain": [70.41, 129.57], "nice": false, "zero": false}, "title": null},
            "text": {"field": "c", "format": ".2f"}
          }
        },
        {
          "data": {"name": "hdr"},
          "mark": {"type": "text", "align": "left", "baseline": "middle", "fontSize": 13, "fontWeight": 500, "color": "white", "dx": 31, "dy": 17.5},
          "encoding": {
            "x": {"datum": "2022-11-23", "type": "ordinal", "scale": {"type": "point", "padding": 1, "align": 0}},
            "y": {"field": "c", "type": "quantitative", "scale": {"domain": [70.41, 129.57], "nice": false, "zero": false}, "title": null},
            "text": {"field": "timer"}
          }
        }
      ]
    },
    {
      "width": 1712,
      "height": 149,
      "layer": [
        {
          "data": {"name": "rsiZone"},
          "mark": {"type": "rect", "color": "#9915ff", "opacity": 0.1},
          "encoding": {
            "y": {
              "field": "top", "type": "quantitative",
              "scale": {"domain": [25.67, 75.33], "nice": false, "zero": false},
              "axis": {
                "orient": "right", "values": [40, 60], "format": ".2f", "grid": true, "ticks": false,
                "labelPadding": 11, "domain": true, "domainColor": "#50535e", "title": null
              }
            },
            "y2": {"field": "bottom"}
          }
        },
        {
          "data": {"name": "rsiLevels"},
          "mark": {"type": "rule", "color": "#b3b1ba", "strokeWidth": 1, "strokeDash": [5, 4]},
          "encoding": {
            "y": {"field": "level", "type": "quantitative", "scale": {"domain": [25.67, 75.33], "nice": false, "zero": false}, "title": null}
          }
        },
        {
          "data": {"name": "bars"},
          "mark": {"type": "line", "color": "#ff6d00", "strokeWidth": 1.3, "clip": true},
          "encoding": {
            "x": {
              "field": "d", "type": "ordinal",
              "scale": {"type": "point", "padding": 1, "align": 0},
              "axis": {
                "values": ["2022-04-01","2022-04-18","2022-05-02","2022-05-16","2022-06-01","2022-06-15","2022-07-01","2022-07-18","2022-08-01","2022-08-15","2022-09-01","2022-09-19","2022-10-03","2022-10-17","2022-11-01","2022-11-15"],
                "labelExpr": "slice(datum.value, 8) <= '03' ? ['Jan','Feb','Mar','Apr','Mei','Jun','Jul','Agst','Sep','Okt','Nov','Des'][toNumber(slice(datum.value, 5, 7)) - 1] : slice(datum.value, 8)",
                "labelFontWeight": {"condition": {"test": "slice(datum.value, 8) <= '03'", "value": "bold"}, "value": "normal"},
                "labelAngle": 0, "labelBaseline": "middle", "labelPadding": 17, "labelOverlap": false,
                "ticks": false, "grid": true, "domain": true, "domainColor": "#50535e",
                "title": "TradingView", "titleX": 30, "titleY": 58, "titleAlign": "left", "titleAnchor": "start",
                "titleBaseline": "middle", "titleFontSize": 15, "titleFontWeight": "normal", "titleColor": "#131722"
              }
            },
            "y": {"field": "rsi", "type": "quantitative", "scale": {"domain": [25.67, 75.33], "nice": false, "zero": false}, "title": null}
          }
        },
        {
          "data": {"name": "bars"},
          "transform": [{"filter": "datum.d == '2022-11-23'"}],
          "mark": {"type": "rect", "color": "#ff6d00", "xOffset": 20, "x2Offset": 73, "yOffset": -9.2, "y2Offset": 9.2, "cornerRadius": 1},
          "encoding": {
            "x": {"datum": "2022-11-23", "type": "ordinal", "scale": {"type": "point", "padding": 1, "align": 0}},
            "x2": {"datum": "2022-11-23"},
            "y": {"field": "rsi", "type": "quantitative", "scale": {"domain": [25.67, 75.33], "nice": false, "zero": false}, "title": null},
            "y2": {"field": "rsi"}
          }
        },
        {
          "data": {"name": "bars"},
          "transform": [{"filter": "datum.d == '2022-11-23'"}],
          "mark": {"type": "text", "align": "left", "baseline": "middle", "fontSize": 13, "fontWeight": 500, "color": "white", "dx": 31, "dy": 0.5},
          "encoding": {
            "x": {"datum": "2022-11-23", "type": "ordinal", "scale": {"type": "point", "padding": 1, "align": 0}},
            "y": {"field": "rsi", "type": "quantitative", "scale": {"domain": [25.67, 75.33], "nice": false, "zero": false}, "title": null},
            "text": {"field": "rsi", "format": ".2f"}
          }
        }
      ]
    }
  ],
  "config": {
    "view": {"stroke": "#e0e3eb", "strokeWidth": 1},
    "axis": {
      "labelFont": "Roboto", "labelFontSize": 13, "labelColor": "#131722",
      "gridColor": "#e6ebf1", "gridWidth": 1, "titleFont": "Roboto"
    },
    "text": {"font": "Roboto"},
    "title": {"font": "Roboto"}
  }
}
